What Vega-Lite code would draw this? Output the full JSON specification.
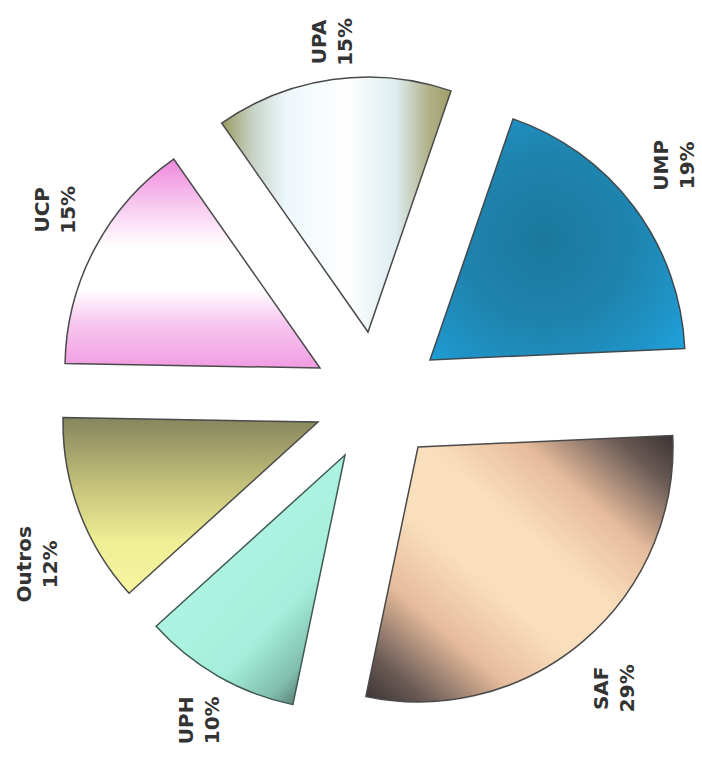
{
  "$schema": "https://vega.github.io/schema/vega-lite/v6.json",
  "width": 702,
  "height": 760,
  "autosize": {"type": "none"},
  "padding": 0,
  "background": "white",
  "config": {"view": {"stroke": null}},
  "data": {
    "values": [
      {"name": "UMP", "pct": 19, "ord": 1},
      {"name": "SAF", "pct": 29, "ord": 2},
      {"name": "UPH", "pct": 10, "ord": 3},
      {"name": "Outros", "pct": 12, "ord": 4},
      {"name": "UCP", "pct": 15, "ord": 5},
      {"name": "UPA", "pct": 15, "ord": 6}
    ]
  },
  "transform": [
    {"stack": "pct", "groupby": [], "sort": [{"field": "ord", "order": "ascending"}], "as": ["a0", "a1"]},
    {"calculate": "(datum.a0 + datum.a1) / 2", "as": "mid"},
    {"calculate": "[datum.name, datum.pct + '%']", "as": "lbl"}
  ],
  "layer": [
    {
      "transform": [{"filter": "datum.name == 'UMP'"}],
      "mark": {"type": "arc", "radius": 255, "xOffset": 79, "yOffset": -20, "stroke": "#3f4a50", "strokeWidth": 1.5,
        "color": {"gradient": "radial", "x1": 0.45, "y1": 0.5, "r1": 0, "x2": 0.45, "y2": 0.5, "r2": 0.75,
          "stops": [{"offset": 0, "color": "#1c789c"}, {"offset": 0.45, "color": "#1e84ae"}, {"offset": 0.75, "color": "#1f94c8"}, {"offset": 1, "color": "#1ea8e6"}]}},
      "encoding": {
        "theta": {"field": "a0", "type": "quantitative", "scale": {"domain": [0, 100], "range": [0.3316, 6.6148]}},
        "theta2": {"field": "a1"}
      }
    },
    {
      "transform": [{"filter": "datum.name == 'SAF'"}],
      "mark": {"type": "arc", "radius": 255, "xOffset": 67, "yOffset": 67, "stroke": "#4a4a4a", "strokeWidth": 1.5,
        "color": {"gradient": "linear", "x1": 1, "y1": 0, "x2": 0, "y2": 1,
          "stops": [{"offset": 0, "color": "#3a3232"}, {"offset": 0.1, "color": "#6a5a55"}, {"offset": 0.26, "color": "#e6bc9c"}, {"offset": 0.42, "color": "#fadfbc"}, {"offset": 0.58, "color": "#fadfbc"}, {"offset": 0.74, "color": "#e6bc9c"}, {"offset": 0.9, "color": "#6a5a55"}, {"offset": 1, "color": "#3a3232"}]}},
      "encoding": {
        "theta": {"field": "a0", "type": "quantitative"},
        "theta2": {"field": "a1"}
      }
    },
    {
      "transform": [{"filter": "datum.name == 'UPH'"}],
      "mark": {"type": "arc", "radius": 255, "xOffset": -6, "yOffset": 75, "stroke": "#3e5a52", "strokeWidth": 1.5,
        "color": {"gradient": "linear", "x1": 0.3, "y1": 0.3, "x2": 0.85, "y2": 1,
          "stops": [{"offset": 0, "color": "#b0f5e4"}, {"offset": 0.55, "color": "#a6eedb"}, {"offset": 0.8, "color": "#80beae"}, {"offset": 1, "color": "#44584f"}]}},
      "encoding": {
        "theta": {"field": "a0", "type": "quantitative"},
        "theta2": {"field": "a1"}
      }
    },
    {
      "transform": [{"filter": "datum.name == 'Outros'"}],
      "mark": {"type": "arc", "radius": 255, "xOffset": -33, "yOffset": 42, "stroke": "#4a4a4a", "strokeWidth": 1.5,
        "color": {"gradient": "linear", "x1": 0, "y1": 0, "x2": 0, "y2": 1,
          "stops": [{"offset": 0, "color": "#86855e"}, {"offset": 0.4, "color": "#c6c47a"}, {"offset": 0.7, "color": "#eeee95"}, {"offset": 1, "color": "#f6f6a0"}]}},
      "encoding": {
        "theta": {"field": "a0", "type": "quantitative"},
        "theta2": {"field": "a1"}
      }
    },
    {
      "transform": [{"filter": "datum.name == 'UCP'"}],
      "mark": {"type": "arc", "radius": 255, "xOffset": -31, "yOffset": -12, "stroke": "#4a4a4a", "strokeWidth": 1.5,
        "color": {"gradient": "linear", "x1": 0, "y1": 0, "x2": 0, "y2": 1,
          "stops": [{"offset": 0, "color": "#ee88dd"}, {"offset": 0.3, "color": "#fbe0f6"}, {"offset": 0.42, "color": "#ffffff"}, {"offset": 0.62, "color": "#ffffff"}, {"offset": 0.78, "color": "#f8c8f0"}, {"offset": 1, "color": "#f19ce2"}]}},
      "encoding": {
        "theta": {"field": "a0", "type": "quantitative"},
        "theta2": {"field": "a1"}
      }
    },
    {
      "transform": [{"filter": "datum.name == 'UPA'"}],
      "mark": {"type": "arc", "radius": 255, "xOffset": 17, "yOffset": -48, "stroke": "#4a4a4a", "strokeWidth": 1.5,
        "color": {"gradient": "linear", "x1": 0, "y1": 0, "x2": 1, "y2": 0,
          "stops": [{"offset": 0, "color": "#9b9a63"}, {"offset": 0.14, "color": "#c8d4c8"}, {"offset": 0.28, "color": "#eef7fb"}, {"offset": 0.55, "color": "#ffffff"}, {"offset": 0.76, "color": "#dcecf0"}, {"offset": 0.9, "color": "#b2b289"}, {"offset": 1, "color": "#9e9d68"}]}},
      "encoding": {
        "theta": {"field": "a0", "type": "quantitative"},
        "theta2": {"field": "a1"}
      }
    },
    {
      "transform": [{"filter": "datum.name == 'UMP'"}],
      "mark": {"type": "text", "radius": 305, "xOffset": 67, "yOffset": -32, "angle": 270, "font": "DejaVu Sans", "fontSize": 20, "fontWeight": "bold", "lineHeight": 26, "color": "#333333", "align": "center", "baseline": "middle"},
      "encoding": {"theta": {"field": "mid", "type": "quantitative"}, "text": {"field": "lbl"}}
    },
    {
      "transform": [{"filter": "datum.name == 'SAF'"}],
      "mark": {"type": "text", "radius": 305, "xOffset": 53, "yOffset": 76, "angle": 270, "font": "DejaVu Sans", "fontSize": 20, "fontWeight": "bold", "lineHeight": 26, "color": "#333333", "align": "center", "baseline": "middle"},
      "encoding": {"theta": {"field": "mid", "type": "quantitative"}, "text": {"field": "lbl"}}
    },
    {
      "transform": [{"filter": "datum.name == 'UPH'"}],
      "mark": {"type": "text", "radius": 300, "xOffset": -15, "yOffset": 80, "angle": 270, "font": "DejaVu Sans", "fontSize": 20, "fontWeight": "bold", "lineHeight": 26, "color": "#333333", "align": "center", "baseline": "middle"},
      "encoding": {"theta": {"field": "mid", "type": "quantitative"}, "text": {"field": "lbl"}}
    },
    {
      "transform": [{"filter": "datum.name == 'Outros'"}],
      "mark": {"type": "text", "radius": 305, "xOffset": -41, "yOffset": 77, "angle": 270, "font": "DejaVu Sans", "fontSize": 20, "fontWeight": "bold", "lineHeight": 26, "color": "#333333", "align": "center", "baseline": "middle"},
      "encoding": {"theta": {"field": "mid", "type": "quantitative"}, "text": {"field": "lbl"}}
    },
    {
      "transform": [{"filter": "datum.name == 'UCP'"}],
      "mark": {"type": "text", "radius": 305, "xOffset": -39, "yOffset": -27, "angle": 270, "font": "DejaVu Sans", "fontSize": 20, "fontWeight": "bold", "lineHeight": 26, "color": "#333333", "align": "center", "baseline": "middle"},
      "encoding": {"theta": {"field": "mid", "type": "quantitative"}, "text": {"field": "lbl"}}
    },
    {
      "transform": [{"filter": "datum.name == 'UPA'"}],
      "mark": {"type": "text", "radius": 295, "xOffset": 10, "yOffset": -46, "angle": 270, "font": "DejaVu Sans", "fontSize": 20, "fontWeight": "bold", "lineHeight": 26, "color": "#333333", "align": "center", "baseline": "middle"},
      "encoding": {"theta": {"field": "mid", "type": "quantitative"}, "text": {"field": "lbl"}}
    }
  ]
}
